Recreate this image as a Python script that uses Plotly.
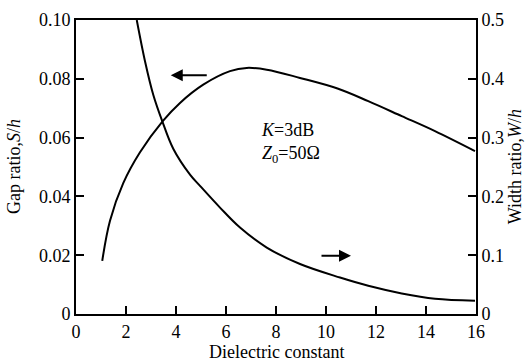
import plotly.graph_objects as go

# Gap ratio S/h (left axis)
eps_s = [1.05, 1.36, 1.89, 2.56, 3.47, 4.16, 5.09, 6.16, 6.83, 7.63, 8.96, 10.46, 11.69, 13.03, 14.36, 15.96]
gap_ratio = [0.0181, 0.0317, 0.0445, 0.0550, 0.0656, 0.0718, 0.0780, 0.0826, 0.0837, 0.0831,
             0.0803, 0.0767, 0.0724, 0.0673, 0.0622, 0.0554]

# Width ratio W/h (right axis)
eps_w = [2.43, 2.76, 3.09, 3.45, 3.89, 4.56, 4.96, 5.76, 6.56, 7.63, 8.96, 10.56, 11.69, 13.03, 14.36, 15.96]
width_ratio = [0.50, 0.430, 0.373, 0.328, 0.281, 0.237, 0.218, 0.181, 0.147, 0.113, 0.085, 0.062,
               0.048, 0.035, 0.026, 0.0226]

x_ticks = [0, 2, 4, 6, 8, 10, 12, 14, 16]
left_ticks = [0, 0.02, 0.04, 0.06, 0.08, 0.10]
left_labels = ["0", "0.02", "0.04", "0.06", "0.08", "0.10"]
right_ticks = [0, 0.1, 0.2, 0.3, 0.4, 0.5]
right_labels = ["0", "0.1", "0.2", "0.3", "0.4", "0.5"]

FONT = "Liberation Serif"

fig = go.Figure()
fig.add_trace(go.Scatter(x=eps_s, y=gap_ratio, mode="lines",
                         line=dict(color="black", width=2, shape="spline", smoothing=1.0),
                         yaxis="y", showlegend=False))
fig.add_trace(go.Scatter(x=eps_w, y=width_ratio, mode="lines",
                         line=dict(color="black", width=2, shape="spline", smoothing=1.0),
                         yaxis="y2", showlegend=False))

axis_common = dict(showgrid=False, zeroline=False, showline=True, linecolor="black",
                   linewidth=2, ticks="inside", ticklen=8, tickwidth=2, tickcolor="black",
                   automargin=False,
                   tickfont=dict(family=FONT, size=18, color="black"))

fig.update_layout(
    width=527, height=361,
    margin=dict(l=76, r=51, t=20, b=47),
    plot_bgcolor="white", paper_bgcolor="white",
    font=dict(family=FONT, size=18, color="black"),
    xaxis=dict(range=[0, 16], tickvals=x_ticks, mirror=True, **axis_common),
    yaxis=dict(range=[0, 0.10], tickvals=left_ticks, ticktext=left_labels, **axis_common),
    yaxis2=dict(range=[0, 0.5], tickvals=right_ticks, ticktext=right_labels,
                overlaying="y", side="right", **axis_common),
)

# axis titles
fig.add_annotation(x=0.5, y=-0.128, xref="paper", yref="paper", showarrow=False,
                   xanchor="center", yanchor="middle", text="Dielectric constant",
                   font=dict(family=FONT, size=18, color="black"))
fig.add_annotation(x=-0.155, y=0.5, xref="paper", yref="paper", showarrow=False,
                   xanchor="center", yanchor="middle", textangle=-90,
                   text="Gap ratio,<i>S</i>/<i>h</i>",
                   font=dict(family=FONT, size=18, color="black"))
fig.add_annotation(x=1.098, y=0.5, xref="paper", yref="paper", showarrow=False,
                   xanchor="center", yanchor="middle", textangle=-90,
                   text="Width ratio,<i>W</i>/<i>h</i>",
                   font=dict(family=FONT, size=18, color="black"))

# direction arrows
fig.add_annotation(x=3.79, y=0.0812, ax=5.29, ay=0.0812, xref="x", yref="y",
                   axref="x", ayref="y", text="", showarrow=True,
                   arrowhead=2, arrowsize=1.2, arrowwidth=2, arrowcolor="black")
fig.add_annotation(x=11.0, y=0.099, ax=9.76, ay=0.099, xref="x", yref="y2",
                   axref="x", ayref="y2", text="", showarrow=True,
                   arrowhead=2, arrowsize=1.2, arrowwidth=2, arrowcolor="black")

# parameter label
fig.add_annotation(x=7.3, y=0.058, xref="x", yref="y", xanchor="left", yanchor="middle",
                   align="left", showarrow=False,
                   text="<i>K</i>=3dB<br><i>Z</i><sub>0</sub>=50Ω",
                   font=dict(family=FONT, size=18, color="black"))

fig.write_html("out.html")
